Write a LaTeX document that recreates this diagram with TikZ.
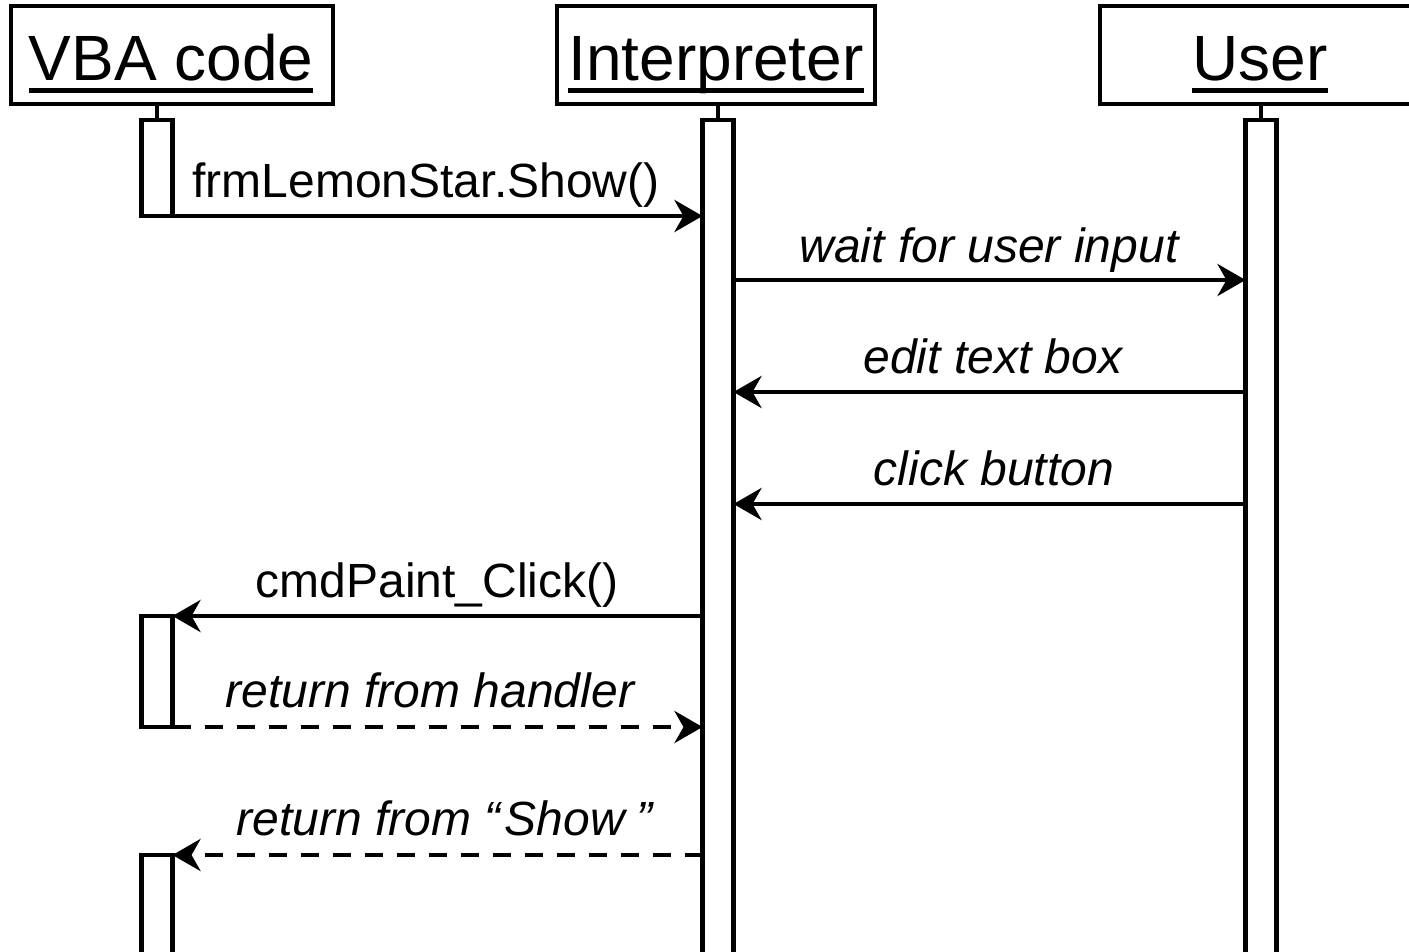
\documentclass[tikz,border=0pt]{standalone}
\usepackage{fontspec}
\setmainfont{Liberation Sans}
\usetikzlibrary{arrows.meta}

\begin{document}
\begin{tikzpicture}[x=1pt,y=-1pt,line width=4.5pt,
  every node/.style={inner sep=0pt,outer sep=0pt},
  headbox/.style={draw,rectangle,minimum width=#1,minimum height=98pt},
  headtext/.style={anchor=base,font=\fontsize{64}{70}\selectfont},
  headline/.style={line width=5pt},
  actbar/.style={draw,fill=white,rectangle,minimum width=31pt,minimum height=#1,anchor=north},
  lbl/.style={anchor=base,font=\fontsize{48}{56}\selectfont},
  ilbl/.style={anchor=base,font=\fontsize{48}{56}\selectfont\itshape},
  call/.style={-{Stealth[length=28pt,width=32pt,inset=9pt]}},
  ret/.style={call,dash pattern=on 18pt off 14pt}]

\useasboundingbox (0,0) rectangle (1409,951);
\clip (0,0) rectangle (1409,951);

% participant heads
\node[headbox=322pt] (vbabox) at (172,55) {};
\node[headbox=318pt] (intbox) at (716,55) {};
\node[headbox=320pt] (usrbox) at (1260,55) {};

\node[headtext] (vbat) at (171,80) {VBA code};
\node[headtext] (intt) at (716,80) {Interpreter};
\node[headtext] (usrt) at (1260,80) {User};

\draw[headline] ([yshift=-10pt]vbat.base west) -- ([yshift=-10pt]vbat.base east);
\draw[headline] ([yshift=-10pt]intt.base west) -- ([yshift=-10pt]intt.base east);
\draw[headline] ([yshift=-10pt]usrt.base west) -- ([yshift=-10pt]usrt.base east);

% activation bars
\node[actbar=96pt]  (vbar1) at (157,120) {};
\node[actbar=860pt] (ibar)  at (718,120) {};
\node[actbar=860pt] (ubar)  at (1261,120) {};
\node[actbar=111pt] (vbar2) at (157,616) {};
\node[actbar=200pt] (vbar3) at (157,855) {};

% stems from heads to bars
\draw (vbabox.south -| vbar1.north) -- (vbar1.north);
\draw (intbox.south -| ibar.north) -- (ibar.north);
\draw (usrbox.south -| ubar.north) -- (ubar.north);

% message rows
\coordinate (m2) at (0,280);
\coordinate (m3) at (0,392);
\coordinate (m4) at (0,504);

% messages
\draw[call] (vbar1.south east) -- (vbar1.south east -| ibar.west);
\node[lbl] (l1) at (426,197) {frmLemonStar.Show()};

\draw[call] (m2 -| ibar.east) -- (m2 -| ubar.west);
\node[ilbl] (l2) at (989,262) {wait for user input};

\draw[call] (m3 -| ubar.west) -- (m3 -| ibar.east);
\node[ilbl] (l3) at (993,373) {edit text box};

\draw[call] (m4 -| ubar.west) -- (m4 -| ibar.east);
\node[ilbl] (l4) at (994,485) {click button};

\draw[call] (vbar2.north east -| ibar.west) -- (vbar2.north east);
\node[lbl] (l5) at (437,597) {cmdPaint\_Click()};

\draw[ret] (vbar2.south east) -- (vbar2.south east -| ibar.west);
\node[ilbl] (l6) at (430,707) {return from handler};

\draw[ret] (vbar3.north east -| ibar.west) -- (vbar3.north east);
\node[ilbl] (l7) at (445,835) {return from “\kern4pt Show\kern12pt ”};
\end{tikzpicture}
\end{document}
